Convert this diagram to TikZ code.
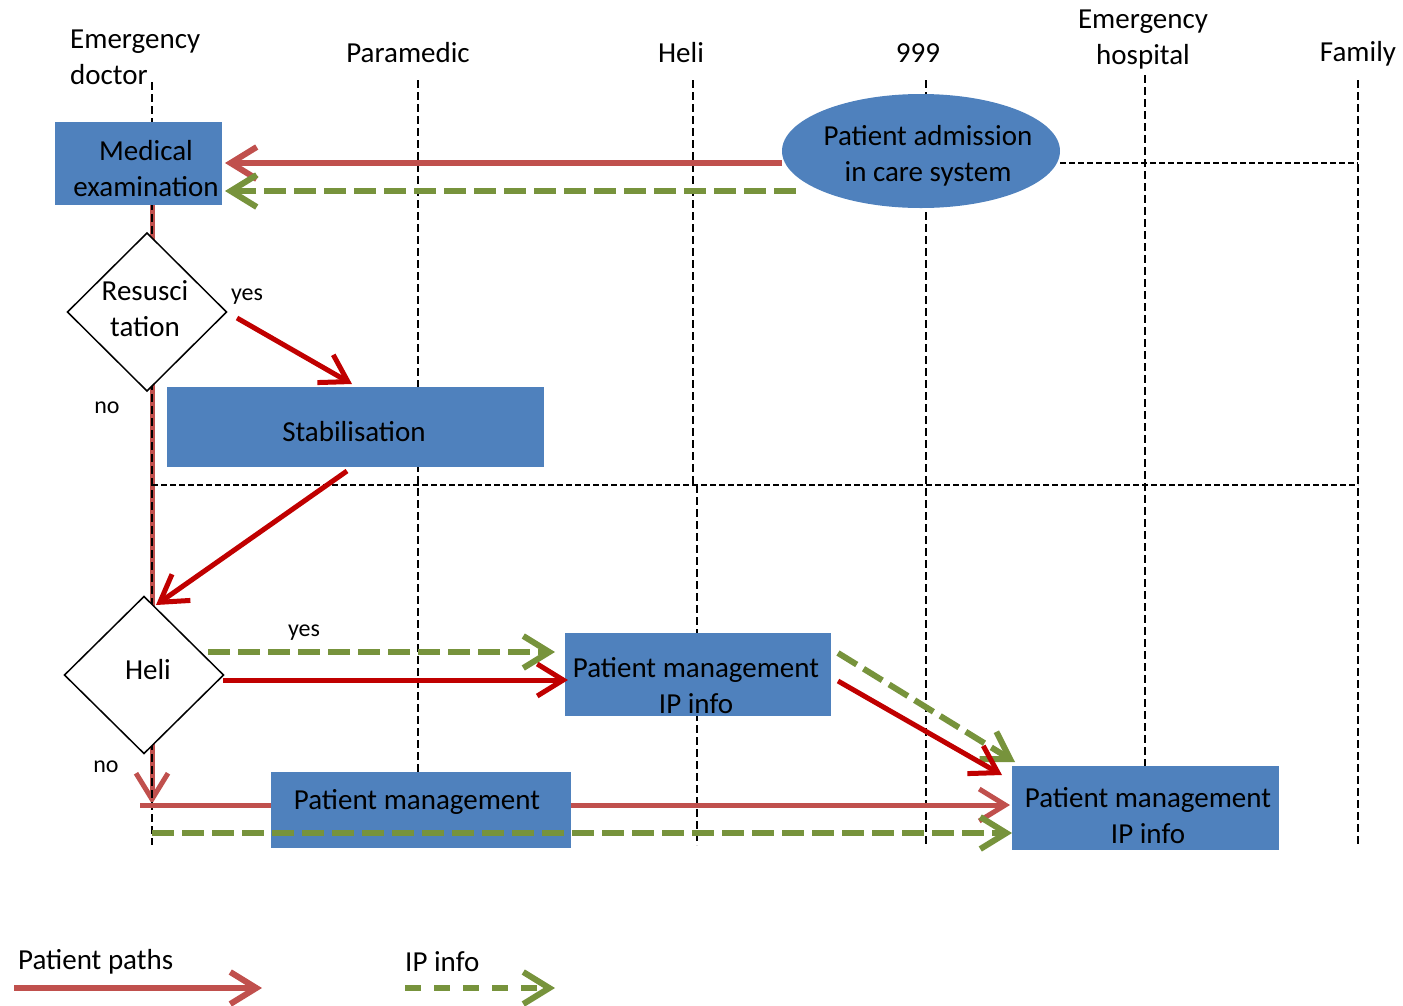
\documentclass[tikz,border=0pt]{standalone}
\usepackage{fontspec}
\setmainfont{Carlito}
\usetikzlibrary{arrows.meta,shapes.geometric}
\definecolor{boxblue}{HTML}{4F81BD}
\definecolor{lightred}{HTML}{C0504D}
\definecolor{darkred}{HTML}{C00000}
\definecolor{ipgreen}{HTML}{77933C}
\tikzset{
  lane/.style={draw=black, line width=1.4pt, dash pattern=on 8pt off 4pt},
  gridline/.style={draw=black, line width=1.3pt, dash pattern=on 6pt off 3pt},
  blk/.style={fill=boxblue, inner sep=0pt, outer sep=0pt},
  decision/.style={diamond, draw=black, line width=1.5pt, fill=white, inner sep=0pt, outer sep=0pt},
  txt/.style={align=center, inner sep=0pt},
  small/.style={font=\fontsize{24}{28}\selectfont, inner sep=0pt},
  tipv/.style={-{Straight Barb[length=26pt,width=32pt]}},
  ppath/.style={draw=lightred, line width=6pt, tipv},
  pdark/.style={draw=darkred, line width=5pt, tipv},
  ipflow/.style={draw=ipgreen, line width=6pt, dash pattern=on 22pt off 8pt, tipv},
}
\begin{document}
\begin{tikzpicture}[x=1pt, y=-1pt, font=\fontsize{29}{36}\selectfont]
\useasboundingbox (0,0) rectangle (1403,1005);

% lane end points
\coordinate (edT) at (152,82);   \coordinate (edB) at (152,845);
\coordinate (pmT) at (418,80);   \coordinate (pmB) at (418,845);
\coordinate (heT) at (693,80);   \coordinate (heM) at (693,485);
\coordinate (heM2) at (697,485); \coordinate (heB) at (697,845);
\coordinate (nnT) at (926,80);   \coordinate (nnB) at (926,845);
\coordinate (ehT) at (1145,75);  \coordinate (ehB) at (1145,845);
\coordinate (faT) at (1358,80);  \coordinate (faB) at (1358,845);

% patient path down the emergency doctor lane
\coordinate (ed1) at (152,205);
\coordinate (ed2) at (152,804);
\draw[ppath, line width=5pt] (ed1) -- (ed2);

% swim lanes
\draw[lane] (edT) -- (edB);
\draw[lane] (pmT) -- (pmB);
\draw[lane] (heT) -- (heM);
\draw[lane] (heM2) -- (heB);
\draw[lane] (nnT) -- (nnB);
\draw[lane] (ehT) -- (ehB);
\draw[lane] (faT) -- (faB);

% lane headers
\node[txt, align=left, anchor=west] (hED) at (70,57) {Emergency\\doctor};
\node[txt] (hPM) at (408,53) {Paramedic};
\node[txt] (hHE) at (681,53) {Heli};
\node[txt] (hNN) at (918,53) {999};
\node[txt] (hEH) at (1143,40) {Emergency\\hospital};
\node[txt] (hFA) at (1358,54) {Family};

% horizontal separators
\coordinate (g1a) at (1060,163); \coordinate (g1b) at (1358,163);
\coordinate (g2a) at (152,485);  \coordinate (g2b) at (1358,485);
\draw[gridline] (g1a) -- (g1b);
\draw[gridline] (g2a) -- (g2b);

% boxes and decisions
\node[blk, minimum width=167pt, minimum height=83pt] (mexam) at (138.5,163.5) {};
\node[txt] (mexamT) at (146,169) {Medical\\examination};

\node[ellipse, fill=boxblue, inner sep=0pt, minimum width=278pt, minimum height=114pt] (admit) at (921,151) {};
\node[txt] (admitT) at (928,156) {Patient admission\\in care system};

\node[decision, minimum width=159pt, minimum height=158pt] (resus) at (147,312) {};
\node[txt] (resusT) at (145,309) {Resusci\\tation};

\node[blk, minimum width=377pt, minimum height=80pt] (stab) at (355.5,427) {};
\node[txt] (stabT) at (354,432) {Stabilisation};

\node[decision, minimum width=159pt, minimum height=157pt] (heli) at (144,675) {};
\node[txt] (heliT) at (148,670) {Heli};

\node[blk, minimum width=266pt, minimum height=83pt] (pmheli) at (698,674.5) {};
\node[txt] (pmheliT) at (696,686) {Patient management\\IP info};

\node[blk, minimum width=267pt, minimum height=84pt] (pmhosp) at (1145.5,808) {};
\node[txt] (pmhospT) at (1148,816) {Patient management\\IP info};

% patient path along the bottom, behind the paramedic box
\coordinate (b1) at (140,805);
\coordinate (b2) at (1010,805);
\draw[ppath, line width=5pt] (b1) -- (b2);

\node[blk, minimum width=300pt, minimum height=76pt] (pmpara) at (421,810) {};
\node[txt] (pmparaT) at (417,802) {Patient management};

% information flow along the bottom
\coordinate (c1) at (152,833);
\coordinate (c2) at (1012,833);
\draw[ipflow] (c1) -- (c2);

% admission to medical examination
\coordinate (a1) at (782,163);  \coordinate (a2) at (225,163);
\coordinate (a3) at (796,191);  \coordinate (a4) at (225,191);
\draw[ppath] (a1) -- (a2);
\draw[ipflow] (a3) -- (a4);

% resuscitation branch
\coordinate (r1) at (237,318);  \coordinate (r2) at (352,384);
\draw[pdark] (r1) -- (r2);
\coordinate (s1) at (347,471);  \coordinate (s2) at (156,605);
\draw[pdark] (s1) -- (s2);

% heli branch
\coordinate (h1) at (208,652);  \coordinate (h2) at (555,652);
\draw[ipflow] (h1) -- (h2);
\coordinate (h3) at (223,680);  \coordinate (h4) at (568,680);
\draw[pdark] (h3) -- (h4);

% heli to emergency hospital
\coordinate (k1) at (838,653);  \coordinate (k2) at (1015,762);
\draw[ipflow] (k1) -- (k2);
\coordinate (k3) at (838,681);  \coordinate (k4) at (1002,775);
\draw[pdark] (k3) -- (k4);

% branch labels
\node[small] (yes1) at (247,297) {yes};
\node[small] (no1) at (107,408) {no};
\node[small] (yes2) at (304,633) {yes};
\node[small] (no2) at (106,767) {no};

% legend
\node[txt, anchor=west] (lgP) at (18,962) {Patient paths};
\node[txt, anchor=west] (lgI) at (405,962) {IP info};
\coordinate (l1) at (14,988);   \coordinate (l2) at (262,988);
\coordinate (l3) at (405,988);  \coordinate (l4) at (555,988);
\draw[ppath] (l1) -- (l2);
\draw[ipflow, dash pattern=on 16pt off 13pt] (l3) -- (l4);
\end{tikzpicture}
\end{document}
